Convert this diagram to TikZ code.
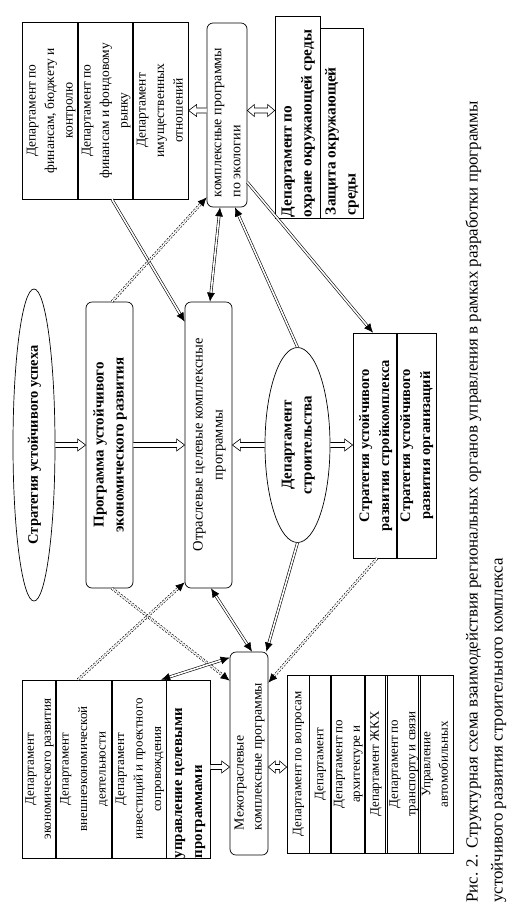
\documentclass[tikz,border=0pt]{standalone}
\usepackage{fontspec}
\setmainfont{Liberation Serif}
\usepackage{graphicx}
\usetikzlibrary{shapes.geometric,arrows.meta,calc}
\newcommand\rc[1]{\rotatebox{90}{\begin{tabular}{@{}c@{}}#1\end{tabular}}}
\newcommand\rl[3]{\rotatebox{90}{\makebox[#1pt][l]{\hspace*{#2pt}\begin{tabular}{@{}l@{}}#3\end{tabular}}}}
\tikzset{
  fs/.style 2 args={font=\fontsize{#1}{#2}\selectfont},
  fsb/.style 2 args={font=\fontsize{#1}{#2}\selectfont\bfseries},
  bx/.style={draw, line width=0.7pt, inner sep=0pt},
  rbx/.style={bx, rounded corners=6pt},
  ell/.style={bx, ellipse},
  harrow/.style={to path={let \p1=(\tikztostart), \p2=(\tikztotarget), \n1={sign(\x2-\x1)} in
     (\x1,{\y2+2.5pt}) -- ({\x2-\n1*8pt},{\y2+2.5pt}) -- ({\x2-\n1*8pt},{\y2+6pt}) -- (\x2,\y2)
     -- ({\x2-\n1*8pt},{\y2-6pt}) -- ({\x2-\n1*8pt},{\y2-2.5pt}) -- (\x1,{\y2-2.5pt})}},
  dharrow/.style={to path={let \p1=(\tikztostart), \p2=(\tikztotarget), \n1={sign(\x2-\x1)} in
     (\x1,\y2) -- ({\x1+\n1*7pt},{\y2+6pt}) -- ({\x1+\n1*7pt},{\y2+2.5pt}) -- ({\x2-\n1*7pt},{\y2+2.5pt})
     -- ({\x2-\n1*7pt},{\y2+6pt}) -- (\x2,\y2) -- ({\x2-\n1*7pt},{\y2-6pt}) -- ({\x2-\n1*7pt},{\y2-2.5pt})
     -- ({\x1+\n1*7pt},{\y2-2.5pt}) -- ({\x1+\n1*7pt},{\y2-6pt}) -- cycle}},
  hollow/.style={draw, fill=white, line width=0.6pt},
  dl/.style={double, double distance=1.6pt, line width=0.6pt, -{Latex[length=9pt,width=8pt]}},
  dld/.style={dl, {Latex[length=9pt,width=8pt]}-{Latex[length=9pt,width=8pt]}},
  ddl/.style={dl, dash pattern=on 2pt off 1.6pt},
}
\begin{document}
\begin{tikzpicture}[x=1pt,y=-1pt]
\useasboundingbox (0,0) rectangle (523,906);
\fill[white] (0,0) rectangle (523,906);
% top-left group
\node[bx, fs={13.5}{18.5}, minimum width=55, minimum height=177] (g1a) at (50.5,110.5) {\rc{Департамент по\\финансам, бюджету и\\контролю}};
\node[bx, fs={13.5}{18.5}, minimum width=55, minimum height=177] (g1b) at (105.5,110.5) {\rc{Департамент по\\финансам и фондовому\\рынку}};
\node[bx, fs={13.5}{18.5}, minimum width=55, minimum height=177] (g1c) at (160.5,110.5) {\rc{Департамент\\имущественных\\отношений}};
% ecology
\node[rbx, fs={14}{19}, minimum width=40, minimum height=184] (eco) at (227,115) {\rl{184}{10}{комплексные программы\\по экологии}};
% environment
\node[bx, fsb={15.3}{20}, minimum width=45, minimum height=202] (e1) at (297.5,117) {\rl{202}{1}{Департамент по\\охране окружающей среды}};
\node[bx, fsb={15.3}{20}, minimum width=43, minimum height=190] (e2) at (341.5,123) {\rl{190}{3}{Защита окружающей\\среды}};
% middle row
\node[ell, fsb={14.5}{19}, minimum width=42, minimum height=312] (S) at (34,445) {\rc{Стратегия устойчивого успеха}};
\node[rbx, fsb={15}{20}, minimum width=47, minimum height=286] (prog) at (109.5,445) {\rc{Программа устойчивого\\экономического развития}};
\node[rbx, fs={14.5}{20}, minimum width=47, minimum height=286] (otr) at (208.5,445) {\rc{Отраслевые целевые комплексные\\программы}};
\node[ell, fsb={15}{20}, minimum width=65, minimum height=195] (dep) at (297.5,445) {\rc{Департамент\\строительства}};
\node[bx, fsb={14.5}{20}, minimum width=44, minimum height=225] (s1) at (375,445.5) {\rc{Стратегия устойчивого\\развития стройкомплекса}};
\node[bx, fsb={14.5}{20}, minimum width=38, minimum height=225] (s2) at (416,445.5) {\rc{Стратегия устойчивого\\развития организаций}};
% mezh
\node[rbx, fs={13.8}{18}, minimum width=38, minimum height=203] (mez) at (249,753.5) {\rl{203}{25}{Межотраслевые\\комплексные программы}};
% bottom-left group
\node[bx, fs={13}{17}, minimum width=32, minimum height=178] (b1) at (39,769) {\rc{Департамент\\экономического развития}};
\node[bx, fs={13}{18.5}, minimum width=57, minimum height=178] (b2) at (83.5,769) {\rc{Департамент\\внешнеэкономической\\деятельности}};
\node[bx, fs={13}{18.5}, minimum width=54, minimum height=178] (b3) at (139,769) {\rc{Департамент\\инвестиций и проектного\\сопровождения}};
\node[bx, fsb={14.8}{20}, minimum width=44, minimum height=178] (b4) at (188,769) {\rl{178}{0}{управление целевыми\\программами}};
% bottom-right group
\node[bx, fs={13}{17}, minimum width=22, minimum height=178] (r1) at (298,764) {\rc{Департамент по вопросам}};
\node[bx, fs={13}{17}, minimum width=22, minimum height=178] (r2) at (320,764) {\rc{Департамент}};
\node[bx, fs={13}{17.5}, minimum width=33, minimum height=178] (r3) at (347.5,764) {\rc{Департамент по\\архитектуре и}};
\node[bx, fs={13}{17}, minimum width=23, minimum height=178] (r4) at (375.5,764) {\rc{Департамент ЖКХ}};
\node[bx, fs={13}{17.5}, minimum width=32, minimum height=178] (r5) at (403,764) {\rc{Департамент по\\транспорту и связи}};
\node[bx, fs={13}{17.5}, minimum width=33, minimum height=178] (r6) at (435.5,764) {\rc{Управление\\автомобильных}};
% caption
\node[anchor=south, inner sep=0pt, fs={16.9}{25}] (cap) at (485,903) {\rotatebox{90}{\begin{tabular}{@{}l@{}}Рис. 2. Структурная схема взаимодействия региональных органов управления в рамках разработки программы\\устойчивого развития строительного комплекса\end{tabular}}};
% hollow arrows
\draw[hollow] (eco.west |- g1c.east) to[harrow] (g1c.east);
\draw[hollow] (eco.east |- g1c.east) to[dharrow] (e1.west |- g1c.east);
\draw[hollow] (S.east) to[harrow] (prog.west);
\draw[hollow] (prog.east) to[harrow] (otr.west);
\draw[hollow] (dep.west) to[harrow] (otr.east);
\draw[hollow] (dep.east) to[harrow] (s1.west |- dep.east);
\draw[hollow] (b4.east |- 0,767) to[harrow] (mez.west |- 0,767);
\draw[hollow] (mez.east |- 0,767) to[dharrow] (r1.west |- 0,767);
% line connectors
\draw[dl] ([xshift=6.5]g1b.south) -- ([yshift=-20]otr.north west);
\draw[ddl] ([xshift=2.5]prog.north) -- ([yshift=10]eco.south west);
\draw[dld] ([xshift=-7]eco.south) -- ([xshift=1.5]otr.north);
\draw[dl] (dep.north) -- ([xshift=8]eco.south);
\draw[dl] ([yshift=25]eco.south east) -- ([xshift=-2]s1.north);
\draw[dld] ([xshift=2.5]otr.south) -- ([xshift=3]mez.north);
\draw[dl] (dep.south) -- ([xshift=-2]mez.north east);
\draw[ddl] ([xshift=2]s1.south) -- ([yshift=-31]mez.north east);
\draw[ddl] ([xshift=2.5]prog.south) -- ([yshift=-29]mez.north west);
\draw[ddl] ([xshift=-5.5]b2.north) -- ([yshift=6]otr.south west);
\draw[dld] ([xshift=-6]b3.north east) -- ([yshift=-6]mez.north west);
\end{tikzpicture}
\end{document}
